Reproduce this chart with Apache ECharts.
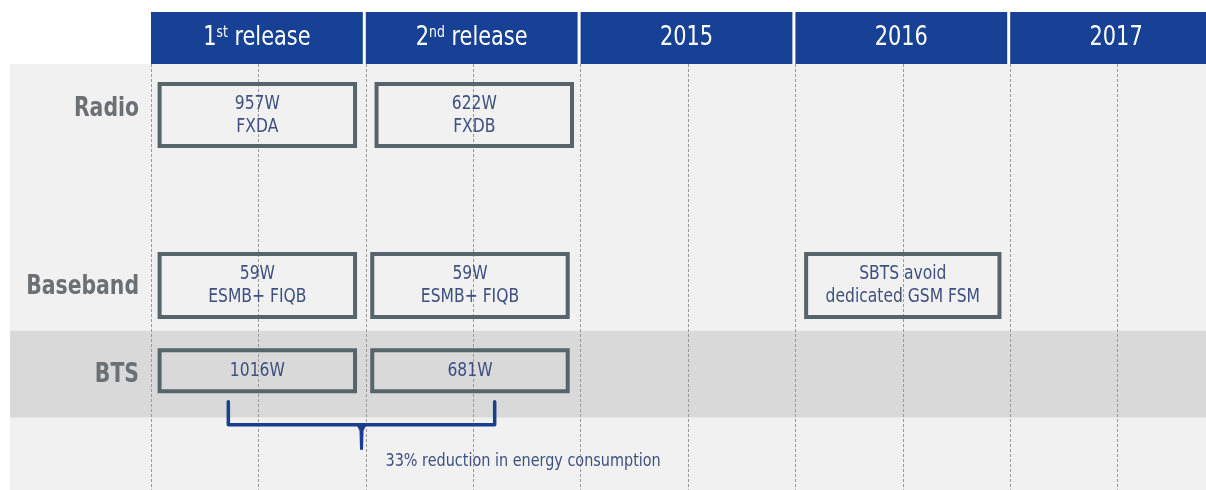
<!DOCTYPE html>
<html>
<head>
<meta charset="utf-8">
<script src="https://cdn.jsdelivr.net/npm/echarts@6/dist/echarts.min.js"></script>
<style>
    html, body { margin: 0; padding: 0; background: #fff; }
    #chart { width: 1206px; height: 490px; }
</style>
</head>
<body>
<div id="chart"></div>
<script>
// timeline columns (header)
var columns = ['1st release', '2nd release', '2015', '2016', '2017'];
// rows (index 1 is an empty spacer row)
var rows = ['Radio', '', 'Baseband', 'BTS'];
// boxes: row index, start / end on the timeline (column units), text
var boxRow = [0, 0, 2, 2, 2, 3, 3];
var boxStart = [0.04, 1.05, 0.04, 1.03, 3.05, 0.04, 1.03];
var boxEnd = [0.95, 1.96, 0.95, 1.94, 3.95, 0.95, 1.94];
var boxText = ['957W\nFXDA', '622W\nFXDB', '59W\nESMB+ FIQB', '59W\nESMB+ FIQB',
    'SBTS avoid\ndedicated GSM FSM', '1016W', '681W'];
// brace under the BTS boxes
var braceRange = [0.36, 1.6];
var braceNote = '33% reduction in energy consumption';

var FONT = '"DejaVu Sans Condensed", "DejaVu Sans", sans-serif';
var Y_MIN = -0.6, Y_MAX = 4.4;
var boxHeight = {0: 62, 2: 63, 3: 41};
var labelShift = {0: -6, 2: 1, 3: 4};

var myChart = echarts.init(document.getElementById('chart'));

function headerText(s) {
    var m = s.match(/^(\d)(st|nd|rd|th)(.*)$/);
    if (m) {
        return '{n|' + m[1] + '}{sup|' + m[2] + '}{n|' + m[3] + '}';
    }
    return '{n|' + s + '}';
}

var option = {
    animation: false,
    grid: {left: 151, right: -19, top: 64, bottom: 0, containLabel: false, outerBoundsMode: 'none'},
    xAxis: {
        type: 'value', min: 0, max: 5, interval: 0.5, z: 1,
        axisLine: {show: false}, axisTick: {show: false}, axisLabel: {show: false},
        splitLine: {show: true, lineStyle: {color: '#999999', width: 1, type: [3, 2]}}
    },
    yAxis: {
        type: 'value', inverse: true, min: Y_MIN, max: Y_MAX,
        axisLine: {show: false}, axisTick: {show: false}, axisLabel: {show: false},
        splitLine: {show: false}
    },
    series: [
        {
            // backgrounds
            type: 'custom', z: 0, silent: true, clip: false,
            data: [[3]],
            renderItem: function (params, api) {
                var cs = params.coordSys;
                var r = api.value(0);
                var yTop = api.coord([0, r - 0.47])[1];
                var yBot = api.coord([0, r + 0.55])[1];
                return {
                    type: 'group',
                    children: [
                        {type: 'rect', shape: {x: 10, y: cs.y, width: api.getWidth() - 10, height: cs.height},
                            style: {fill: '#f1f1f1'}},
                        {type: 'rect', shape: {x: 10, y: yTop, width: api.getWidth() - 10, height: yBot - yTop},
                            style: {fill: '#d9d9d9'}}
                    ]
                };
            }
        },
        {
            // header
            type: 'custom', silent: true, clip: false,
            data: columns.map(function (c, i) { return [i]; }),
            renderItem: function (params, api) {
                var i = api.value(0);
                var x0 = api.coord([i, Y_MIN])[0];
                var x1 = api.coord([i + 1, Y_MIN])[0] - 3;
                var top = params.coordSys.y;
                return {
                    type: 'group',
                    children: [
                        {type: 'rect', shape: {x: x0, y: top - 52, width: x1 - x0, height: 52},
                            style: {fill: '#164194'}},
                        {type: 'text', x: (x0 + x1) / 2, y: top - 26, scaleX: 0.86,
                            style: {
                                x: 0, y: 0, text: headerText(columns[i]),
                                align: 'center', verticalAlign: 'middle',
                                rich: {
                                    n: {fontSize: 27, fontFamily: FONT, fill: '#fff'},
                                    sup: {fontSize: 16, fontFamily: FONT, fill: '#fff',
                                        verticalAlign: 'top', padding: [0, 0, 8, 0]}
                                }
                            }}
                    ]
                };
            }
        },
        {
            // row labels
            type: 'custom', silent: true, clip: false,
            data: rows.map(function (r, i) { return [0, i]; }),
            renderItem: function (params, api) {
                var i = params.dataIndex;
                var p = api.coord([0, i]);
                return {
                    type: 'text', x: p[0] - 12, y: p[1] + (labelShift[i] || 0), scaleX: 0.84,
                    style: {
                        x: 0, y: 0, text: rows[i],
                        align: 'right', verticalAlign: 'middle',
                        fontSize: 27, fontWeight: 'bold', fontFamily: FONT, fill: '#6b7075'
                    }
                };
            }
        },
        {
            // boxes
            type: 'custom', silent: true,
            data: boxText.map(function (t, i) { return [boxStart[i], boxEnd[i], boxRow[i]]; }),
            renderItem: function (params, api) {
                var i = params.dataIndex;
                var p0 = api.coord([api.value(0), api.value(2)]);
                var p1 = api.coord([api.value(1), api.value(2)]);
                var h = boxHeight[api.value(2)];
                return {
                    type: 'group',
                    children: [
                        {type: 'rect', shape: {x: p0[0], y: p0[1] - h / 2, width: p1[0] - p0[0], height: h},
                            style: {fill: 'none', stroke: '#56646b', lineWidth: 4}},
                        {type: 'text', x: (p0[0] + p1[0]) / 2, y: p0[1], scaleX: 0.91,
                            style: {
                                x: 0, y: 0, text: boxText[i],
                                align: 'center', verticalAlign: 'middle', lineHeight: 23,
                                fontSize: 19, fontFamily: FONT, fill: '#3d5080'
                            }}
                    ]
                };
            }
        },
        {
            // brace + note
            type: 'custom', silent: true, clip: false,
            data: [[braceRange[0], braceRange[1], 3]],
            renderItem: function (params, api) {
                var a = api.coord([api.value(0), api.value(2)]);
                var b = api.coord([api.value(1), api.value(2)]);
                var xm = (a[0] + b[0]) / 2;
                var yTop = a[1] + 31, yH = a[1] + 54, yS = a[1] + 79;
                var stroke = '#1b3e91';
                return {
                    type: 'group',
                    children: [
                        {type: 'polyline', shape: {points: [[a[0], yTop], [a[0], yH], [b[0], yH], [b[0], yTop]]},
                            style: {stroke: stroke, lineWidth: 3.5, fill: 'none', lineJoin: 'round', lineCap: 'round'}},
                        {type: 'polygon', shape: {points: [[xm - 5, yH], [xm + 5, yH], [xm + 2, yH + 6], [xm + 1.5, yS], [xm - 1.5, yS], [xm - 2, yH + 6]]},
                            style: {fill: stroke}},
                        {type: 'text', x: xm + 24, y: a[1] + 91, scaleX: 0.89,
                            style: {
                                x: 0, y: 0, text: braceNote,
                                align: 'left', verticalAlign: 'middle',
                                fontSize: 18, fontFamily: FONT, fill: '#3d5080'
                            }}
                    ]
                };
            }
        }
    ]
};

myChart.setOption(option);
</script>
</body>
</html>
